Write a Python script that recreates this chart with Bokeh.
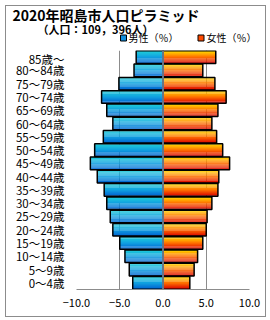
from bokeh.plotting import figure
from bokeh.models import FixedTicker, Range1d
from bokeh.layouts import column
from bokeh.core.properties import value
from bokeh.embed import file_html
from bokeh.resources import INLINE

ages = ["0～4歳", "5～9歳", "10～14歳", "15～19歳", "20～24歳", "25～29歳",
        "30～34歳", "35～39歳", "40～44歳", "45～49歳", "50～54歳", "55～59歳",
        "60～64歳", "65～69歳", "70～74歳", "75～79歳", "80～84歳", "85歳～"]
male = [3.5, 3.9, 4.4, 5.0, 5.8, 6.1, 6.5, 6.8, 7.6, 8.4, 7.9, 6.9,
        5.8, 6.5, 7.1, 5.1, 3.35, 3.1]
female = [3.1, 3.6, 4.0, 4.6, 5.0, 5.1, 5.65, 6.35, 6.45, 7.7, 6.9, 6.2,
          5.65, 6.35, 7.3, 6.0, 4.6, 6.1]
x_ticks = [-10, -5, 0, 5, 10]
x_tick_labels = ["−10.0", "−5.0", "0.0", "5.0", "10.0"]
title_text = "2020年昭島市人口ピラミッド"
subtitle_text = "（人口：109，396人）"
legend_labels = ["男性（％）", "女性（％）"]
legend_colors = ["#1090e0", "#ff4a00"]

FONT = "Noto Sans CJK JP"
W = 259
HEAD_H = 44
MAIN_H = 266

def lerp(c1, c2, t):
    return "#%02x%02x%02x" % tuple(int(round(a + (b - a) * t)) for a, b in zip(c1, c2))

def grad(stops, t):
    k = len(stops) - 1
    i = min(int(t * k), k - 1)
    return lerp(stops[i], stops[i + 1], t * k - i)

male_stops = [(0x20, 0xd0, 0xd8), (0x10, 0xa0, 0xe0), (0x00, 0x60, 0xd0)]
female_stops = [(0xff, 0xe0, 0x00), (0xff, 0x70, 0x00), (0xd8, 0x00, 0x00)]

# ---------- header (title, subtitle, legend); data units = pixels ----------
h = figure(width=W, height=HEAD_H, output_backend="svg", toolbar_location=None,
           x_range=Range1d(0, W), y_range=Range1d(HEAD_H, 0),
           min_border_left=0, min_border_right=0, min_border_top=0,
           min_border_bottom=0)
h.frame_align = False
h.axis.visible = False
h.grid.visible = False
h.outline_line_color = None
h.text(x=[6], y=[8.5], text=[title_text], text_font=value(FONT),
       text_font_size="14px", text_font_style="bold", text_baseline="middle",
       text_color="black")
h.text(x=[31], y=[22], text=[subtitle_text], text_font=value(FONT),
       text_font_size="11px", text_font_style="bold", text_baseline="middle",
       text_color="black")
h.text(x=[122, 200], y=[31, 31], text=legend_labels, text_font=value(FONT),
       text_font_size="10px", text_baseline="middle", text_color="black")
h.rect(x=[117, 194.5], y=[31.5, 31.5], width=6, height=6,
       fill_color=legend_colors, line_color="black", line_width=1)

# ---------- main pyramid ----------
n = len(ages)
p = figure(width=W, height=MAIN_H, output_backend="svg", toolbar_location=None,
           x_range=Range1d(-10, 10), y_range=Range1d(-0.5, n - 0.5),
           min_border_left=70, min_border_right=16, min_border_top=0,
           min_border_bottom=27)
p.frame_align = False
p.outline_line_color = None

p.ygrid.grid_line_color = None
p.xgrid.ticker = FixedTicker(ticks=x_ticks)
p.xgrid.grid_line_color = "#8c8c8c"
p.xgrid.grid_line_width = 1

H = 0.95
N = 12
ys, lefts, rights, cols = [], [], [], []
for i in range(n):
    for k in range(N):
        t = (k + 0.5) / N
        yc = i + H / 2 - (k + 0.5) * H / N
        ys += [yc, yc]
        lefts += [-male[i], 0]
        rights += [0, female[i]]
        cols += [grad(male_stops, t), grad(female_stops, t)]
p.hbar(y=ys, left=lefts, right=rights, height=H / N * 1.05, fill_color=cols,
       line_color=None)
idx = list(range(n))
p.hbar(y=idx, left=[-m for m in male], right=[0] * n, height=H,
       fill_color=None, line_color="black", line_width=1.5)
p.hbar(y=idx, left=[0] * n, right=female, height=H,
       fill_color=None, line_color="black", line_width=1.5)
p.segment(x0=[0], y0=[-0.5], x1=[0], y1=[n - 0.5], line_color="#8a9aae",
          line_width=1.5)

p.xaxis.ticker = FixedTicker(ticks=x_ticks)
p.xaxis.major_label_overrides = dict(zip(x_ticks, x_tick_labels))
p.xaxis.major_tick_line_color = None
p.xaxis.minor_tick_line_color = None
p.xaxis.major_tick_out = 0
p.xaxis.major_tick_in = 0
p.xaxis.minor_tick_out = 0
p.xaxis.axis_line_color = "#8c8c8c"
p.xaxis.major_label_standoff = 9
p.xaxis.major_label_text_font = FONT
p.xaxis.major_label_text_font_size = "11px"
p.xaxis.major_label_text_color = "black"

p.yaxis.ticker = FixedTicker(ticks=idx)
p.yaxis.major_label_overrides = dict(zip(idx, ages))
p.yaxis.major_tick_line_color = None
p.yaxis.minor_tick_line_color = None
p.yaxis.major_tick_out = 0
p.yaxis.major_tick_in = 0
p.yaxis.minor_tick_out = 0
p.yaxis.axis_line_color = None
p.yaxis.major_label_standoff = 12
p.yaxis.major_label_text_font = FONT
p.yaxis.major_label_text_font_size = "11.5px"
p.yaxis.major_label_text_color = "black"

layout = column(h, p, spacing=0,
                styles={"border": "1px solid #8c8c8c", "margin-left": "5px",
                        "margin-top": "5px"})

with open("out.html", "w") as f:
    f.write(file_html(layout, INLINE))
